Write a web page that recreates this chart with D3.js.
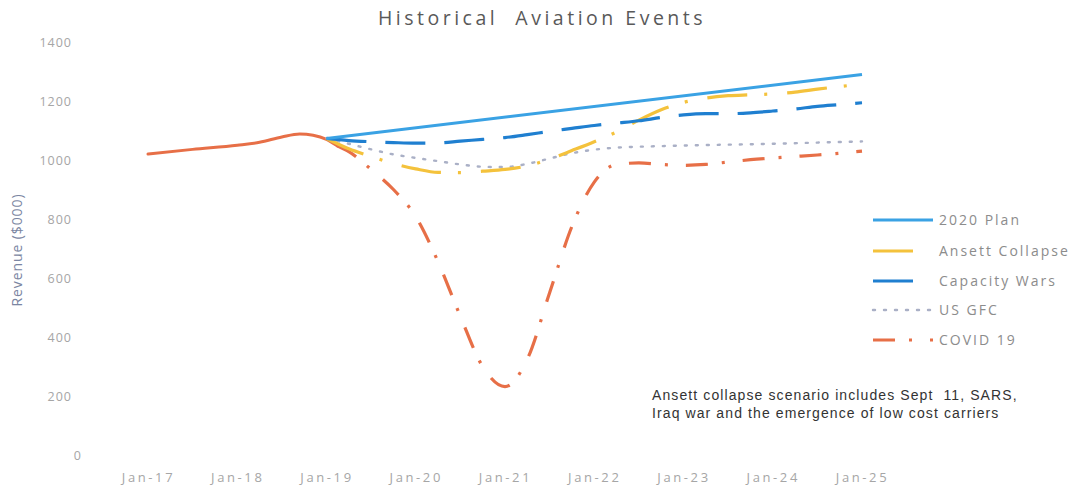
<!DOCTYPE html>
<html><head><meta charset="utf-8">
<script src="https://cdn.jsdelivr.net/npm/d3@7"></script>
<style>
html,body{margin:0;padding:0;background:#fff;}
svg{display:block;}
</style></head>
<body>
<svg id="chart" width="1072" height="488"></svg>
<script>
// ---- DATA ----
const tickYears = [2017, 2018, 2019, 2020, 2021, 2022, 2023, 2024, 2025];
const tickLabels = ["Jan-17","Jan-18","Jan-19","Jan-20","Jan-21","Jan-22","Jan-23","Jan-24","Jan-25"];
const yTicks = [0, 200, 400, 600, 800, 1000, 1200, 1400];

const historical = [[2017,1020],[2017.5,1036],[2018,1050],[2018.25,1060],[2018.5,1078],[2018.7,1088],[2018.85,1084],[2019,1070],[2019.12,1048]];
const plan2020 = [[2019,1073],[2025,1290]];
const ansett = [[2019,1073],[2019.25,1038],[2019.5,1012],[2019.75,988],[2020,970],[2020.25,958],[2020.5,957],[2020.75,962],[2021,968],[2021.25,980],[2021.5,1003],[2021.75,1032],[2022,1062],[2022.25,1095],[2022.5,1135],[2022.75,1170],[2023,1195],[2023.25,1210],[2023.5,1218],[2023.75,1221],[2024,1224],[2024.25,1230],[2024.5,1240],[2024.75,1249],[2025,1257]];
const capacity = [[2019,1073],[2019.25,1066],[2019.5,1062],[2019.75,1059],[2020,1057],[2020.25,1058],[2020.5,1064],[2020.75,1070],[2021,1076],[2021.25,1086],[2021.5,1097],[2021.75,1107],[2022,1117],[2022.25,1125],[2022.5,1133],[2022.75,1144],[2023,1153],[2023.25,1157],[2023.5,1157],[2023.75,1160],[2024,1166],[2024.25,1173],[2024.5,1182],[2024.75,1188],[2025,1194]];
const usgfc = [[2019,1073],[2019.25,1055],[2019.5,1036],[2019.75,1019],[2020,1007],[2020.25,996],[2020.5,985],[2020.75,977],[2021,976],[2021.25,987],[2021.5,1005],[2021.75,1023],[2022,1035],[2022.25,1042],[2022.5,1045],[2022.75,1047],[2023,1049],[2023.5,1052],[2024,1055],[2024.5,1059],[2025,1063]];
const covid = [[2019.12,1048],[2019.25,1028],[2019.5,968],[2019.75,900],[2020,808],[2020.25,655],[2020.5,470],[2020.75,300],[2021,232],[2021.25,325],[2021.5,550],[2021.75,775],[2022,925],[2022.25,985],[2022.5,990],[2022.75,985],[2023,982],[2023.25,985],[2023.5,993],[2023.75,1001],[2024,1007],[2024.25,1012],[2024.5,1017],[2024.75,1023],[2025,1030]];

const seriesNames = ["2020 Plan","Ansett Collapse","Capacity Wars","US GFC","COVID 19"];
const seriesData = [plan2020, ansett, capacity, usgfc, covid];
const seriesColors = ["#3aa2e4","#f4c23c","#1f7fd0","#aab0c6","#e76f47"];
const seriesDash = [null, "40,17,3,20", "40,19", "2,9", "22,14,3,18"];
const seriesWidth = [3, 3.2, 3.2, 2.4, 3.2];

const titleText = "Historical  Aviation Events";
const yTitle = "Revenue ($000)";
const noteLines = ["Ansett collapse scenario includes Sept  11, SARS,", "Iraq war and the emergence of low cost carriers"];

// ---- CHART ----
const svg = d3.select("#chart");
svg.append("rect").attr("width",1072).attr("height",488).attr("fill","#fff");

const x = d3.scaleLinear().domain([2017,2025]).range([148,862]);
const y = d3.scaleLinear().domain([0,1400]).range([455,42]);

// title
svg.append("text").attr("x",542).attr("y",25).attr("text-anchor","middle")
  .attr("font-family","'Open Sans', sans-serif").attr("font-size",19.5).attr("letter-spacing",3.5)
  .attr("fill","#595959").style("white-space","pre").text(titleText);

// y axis
const yAxis = svg.append("g").attr("transform","translate(72,0)")
  .call(d3.axisLeft(y).tickValues(yTicks).tickSize(0).tickPadding(0).tickFormat(d3.format("d")));
yAxis.select(".domain").remove();
yAxis.selectAll("text").attr("font-family","'Open Sans', sans-serif").attr("font-size",12.5)
  .attr("letter-spacing",1).attr("fill","#a6a6a6")
  .attr("dx", d => d === 0 ? 10 : 0);

svg.append("text").attr("transform","translate(22,250) rotate(-90)").attr("text-anchor","middle")
  .attr("font-family","'Open Sans', sans-serif").attr("font-size",14).attr("letter-spacing",0.9)
  .attr("fill","#7b86a2").text(yTitle);

// x axis
const xAxis = svg.append("g").attr("transform","translate(0,473)")
  .call(d3.axisBottom(x).tickValues(tickYears).tickSize(0).tickPadding(0).tickFormat((d,i)=>tickLabels[i]));
xAxis.select(".domain").remove();
xAxis.selectAll("text").attr("font-family","'Open Sans', sans-serif").attr("font-size",13)
  .attr("letter-spacing",2.6).attr("fill","#a6a6a6");

// lines
const line = d3.line().x(d=>x(d[0])).y(d=>y(d[1])).curve(d3.curveMonotoneX);

svg.append("path").datum(historical).attr("d",line).attr("fill","none")
  .attr("stroke","#e76f47").attr("stroke-width",3).attr("stroke-linecap","round");

const order = [3,4,1,2,0];
order.forEach(i=>{
  svg.append("path").datum(seriesData[i]).attr("d",line).attr("fill","none")
    .attr("stroke",seriesColors[i]).attr("stroke-width",seriesWidth[i])
    .attr("stroke-dasharray",seriesDash[i]).attr("stroke-linecap", i===3 ? "round" : "butt");
});

// legend
const legendY = [220, 251, 281, 310, 340];
const lg = svg.append("g");
seriesNames.forEach((name,i)=>{
  const len = (i===1||i===2) ? 42 : 60;
  lg.append("line").attr("x1",873).attr("x2",873+len).attr("y1",legendY[i]).attr("y2",legendY[i])
    .attr("stroke",seriesColors[i]).attr("stroke-width",seriesWidth[i])
    .attr("stroke-dasharray",seriesDash[i]).attr("stroke-linecap", i===3 ? "round" : "butt");
  lg.append("text").attr("x",939).attr("y",legendY[i]).attr("dy","0.35em")
    .attr("font-family","'Open Sans', sans-serif").attr("font-size",14).attr("letter-spacing",2)
    .attr("fill","#8c8c8c").text(name);
});

// note
noteLines.forEach((t,i)=>{
  svg.append("text").attr("x",652).attr("y",400 + i*18)
    .attr("font-family","'Liberation Sans', Arial, sans-serif").attr("font-size",14)
    .attr("letter-spacing",1.1).attr("fill","#333").style("white-space","pre").text(t);
});
</script>
</body></html>
